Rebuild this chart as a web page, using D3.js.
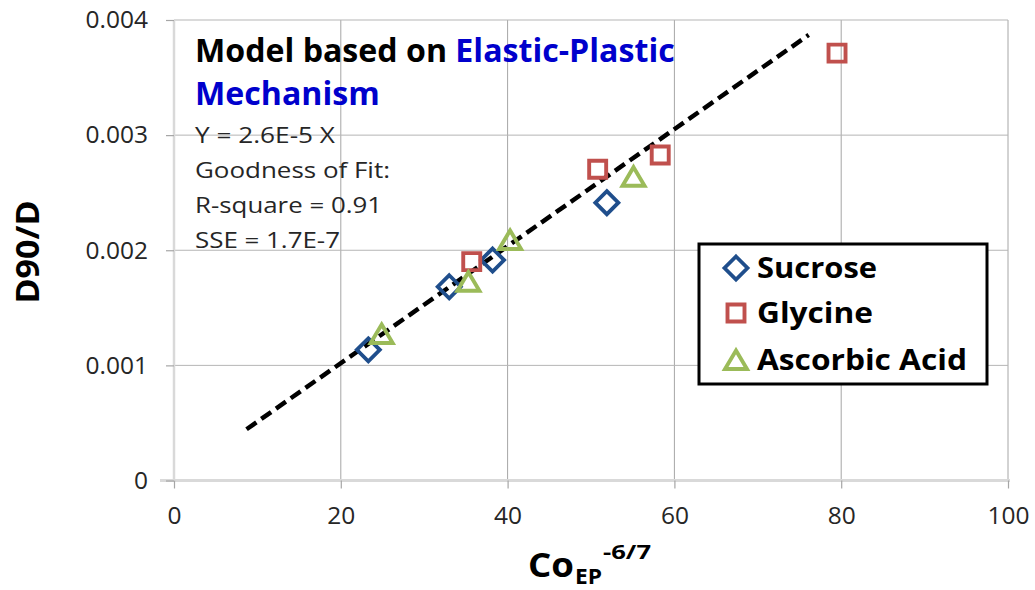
<!DOCTYPE html>
<html><head><meta charset="utf-8">
<script src="https://cdn.jsdelivr.net/npm/d3@7"></script>
<style>body{margin:0;background:#fff}svg{display:block}</style>
</head><body>
<svg id="chart" width="1035" height="590"></svg>
<script>
// ---- data ----
const xTicks = [0, 20, 40, 60, 80, 100];
const yTicks = [0, 0.001, 0.002, 0.003, 0.004];
const sucroseX = [23.3, 33.0, 38.2, 51.9];
const sucroseY = [0.001135, 0.001683, 0.001915, 0.002413];
const glycineX = [35.7, 50.8, 58.3, 79.5];
const glycineY = [0.001901, 0.002703, 0.002827, 0.003712];
const ascorbicX = [24.9, 35.3, 40.3, 55.1];
const ascorbicY = [0.001272, 0.001727, 0.002089, 0.002639];
const fitX = [8.7, 76.1];
const fitY = [0.000445, 0.00387];
const seriesNames = ["Sucrose", "Glycine", "Ascorbic Acid"];
const annotLines = ["Y = 2.6E-5 X", "Goodness of Fit:", "R-square = 0.91", "SSE = 1.7E-7"];

const svg = d3.select("#chart");
const FONT = "'Open Sans', sans-serif";
const x = d3.scaleLinear().domain([0, 100]).range([174, 1008]);
const y = d3.scaleLinear().domain([0, 0.004]).range([480.5, 20]);

function fitWidth(sel, target) {
  const node = sel.node();
  const w = node.getComputedTextLength();
  const fs = parseFloat(sel.attr("font-size"));
  sel.attr("font-size", fs * target / w);
}

// gridlines
const grid = svg.append("g");
grid.selectAll("line.v").data(xTicks.slice(1)).join("line")
  .attr("x1", d => x(d)).attr("x2", d => x(d))
  .attr("y1", y(0.004)).attr("y2", y(0))
  .attr("stroke", "#a6a6a6").attr("stroke-width", 1);
grid.selectAll("line.h").data(yTicks.slice(1)).join("line")
  .attr("x1", x(0)).attr("x2", x(100))
  .attr("y1", d => y(d)).attr("y2", d => y(d))
  .attr("stroke", "#b5b5b5").attr("stroke-width", 1);

// axes
const xAxis = svg.append("g").attr("transform", `translate(0,${y(0)})`)
  .call(d3.axisBottom(x).tickValues(xTicks).tickSize(8).tickPadding(18).tickFormat(d3.format("d")));
xAxis.select(".domain").attr("stroke", "#d9d9d9").attr("stroke-width", 3).attr("d", `M${x(0)-14},0H${x(100)+2}`);
xAxis.selectAll(".tick line").attr("stroke", "#a6a6a6").attr("stroke-width", 1.2);
xAxis.selectAll(".tick text").attr("font-family", FONT).attr("font-size", 24.5).attr("fill", "#262626");

const yAxis = svg.append("g").attr("transform", `translate(${x(0)},0)`)
  .call(d3.axisLeft(y).tickValues(yTicks).tickSize(8).tickPadding(18)
    .tickFormat(d => d === 0 ? "0" : d3.format(".3f")(d)));
yAxis.select(".domain").attr("stroke", "#d9d9d9").attr("stroke-width", 2.5).attr("d", `M0,${y(0.004)}V${y(0)}`);
yAxis.selectAll(".tick line").attr("stroke", "#a6a6a6").attr("stroke-width", 1.2);
yAxis.selectAll(".tick text").attr("font-family", FONT).attr("font-size", 24.5).attr("fill", "#262626");

// fit line
svg.append("path")
  .datum(fitX.map((v, i) => [v, fitY[i]]))
  .attr("d", d3.line().x(d => x(d[0])).y(d => y(d[1])))
  .attr("fill", "none").attr("stroke", "#000").attr("stroke-width", 4.5)
  .attr("stroke-dasharray", "12,6");

// markers
const markerDefs = [
  { name: seriesNames[0], color: "#1f4e8c", shape: "diamond", xs: sucroseX, ys: sucroseY },
  { name: seriesNames[1], color: "#c0504d", shape: "square", xs: glycineX, ys: glycineY },
  { name: seriesNames[2], color: "#9bbb59", shape: "triangle", xs: ascorbicX, ys: ascorbicY },
];
function shapePath(shape) {
  if (shape === "diamond") return "M0,-11.5L11.5,0L0,11.5L-11.5,0Z";
  if (shape === "square") return "M-8.5,-8.5H8.5V8.5H-8.5Z";
  return "M0,-9.5L11,9H-11Z";
}
function strokeW(shape) { return shape === "diamond" ? 3.8 : 3.9; }

markerDefs.forEach(s => {
  svg.append("g").selectAll("path").data(s.xs.map((v, i) => [v, s.ys[i]])).join("path")
    .attr("transform", d => `translate(${x(d[0])},${y(d[1])})`)
    .attr("d", shapePath(s.shape))
    .attr("fill", "none").attr("stroke", s.color).attr("stroke-width", strokeW(s.shape))
    .attr("stroke-linejoin", "miter");
});

// annotation title
const t1 = svg.append("text").attr("x", 195).attr("y", 62)
  .attr("font-family", FONT).attr("font-weight", "bold").attr("font-size", 32);
t1.append("tspan").attr("fill", "#000").text("Model based on ");
t1.append("tspan").attr("fill", "#0000cc").text("Elastic-Plastic");
fitWidth(t1, 480);
const t2 = svg.append("text").attr("x", 195).attr("y", 105)
  .attr("font-family", FONT).attr("font-weight", "bold").attr("font-size", 32)
  .attr("fill", "#0000cc").text("Mechanism");
t2.attr("font-size", t1.attr("font-size"));

const annotBase = [143, 178, 213, 248];
const annotW = [140, 195, 187, 145];
annotLines.forEach((s, i) => {
  const t = svg.append("text").attr("x", 195).attr("y", annotBase[i])
    .attr("font-family", FONT).attr("font-size", 21).attr("fill", "#262626").text(s);
  t.attr("textLength", annotW[i]).attr("lengthAdjust", "spacingAndGlyphs");
});

// legend
const lg = svg.append("g");
lg.append("rect").attr("x", 699).attr("y", 244).attr("width", 288).attr("height", 140)
  .attr("fill", "#fff").attr("stroke", "#000").attr("stroke-width", 3);
const legRows = [268, 313, 360];
const legW = [120, 116, 210];
markerDefs.forEach((s, i) => {
  lg.append("path").attr("transform", `translate(736,${legRows[i]})`)
    .attr("d", shapePath(s.shape)).attr("fill", "none")
    .attr("stroke", s.color).attr("stroke-width", strokeW(s.shape));
  lg.append("text").attr("x", 757).attr("y", legRows[i] + 10)
    .attr("font-family", FONT).attr("font-weight", "bold").attr("font-size", 28)
    .attr("fill", "#000").text(s.name)
    .attr("textLength", legW[i]).attr("lengthAdjust", "spacingAndGlyphs");
});

// axis titles
svg.append("text").attr("transform", "translate(39,252) rotate(-90)")
  .attr("text-anchor", "middle").attr("font-family", FONT).attr("font-weight", "bold")
  .attr("font-size", 33).attr("fill", "#000").text("D90/D")
  .attr("textLength", 103).attr("lengthAdjust", "spacingAndGlyphs");

svg.append("text").attr("x", 528).attr("y", 577)
  .attr("font-family", FONT).attr("font-weight", "bold").attr("font-size", 34).attr("fill", "#000")
  .text("Co").attr("textLength", 46).attr("lengthAdjust", "spacingAndGlyphs");
svg.append("text").attr("x", 575).attr("y", 584)
  .attr("font-family", FONT).attr("font-weight", "bold").attr("font-size", 22).attr("fill", "#000")
  .text("EP").attr("textLength", 27).attr("lengthAdjust", "spacingAndGlyphs");
svg.append("text").attr("x", 603).attr("y", 559)
  .attr("font-family", FONT).attr("font-weight", "bold").attr("font-size", 19).attr("fill", "#000")
  .text("-6/7").attr("textLength", 48).attr("lengthAdjust", "spacingAndGlyphs");
</script>
</body></html>
